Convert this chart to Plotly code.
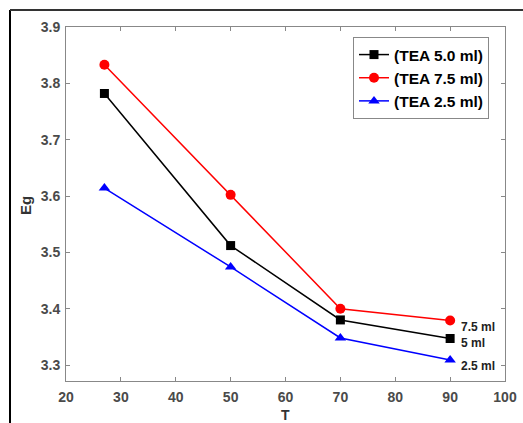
import plotly.graph_objects as go

# Temperature values and band-gap energies for each TEA volume
T = [27, 50, 70, 90]
eg_tea_50 = [3.782, 3.512, 3.380, 3.347]
eg_tea_75 = [3.833, 3.602, 3.400, 3.379]
eg_tea_25 = [3.614, 3.474, 3.348, 3.309]

series_names = ["(TEA 5.0 ml)", "(TEA 7.5 ml)", "(TEA 2.5 ml)"]
end_labels = ["5 ml", "7.5 ml", "2.5 ml"]
x_title, y_title = "T", "Eg"

W, H = 523, 423
ML, MR, MT, MB = 66, 18, 27, 42

FONT = "Liberation Sans, Arial, sans-serif"

fig = go.Figure()
styles = [
    ("black", "square", 9),
    ("#ff0000", "circle", 10),
    ("#0000ff", "triangle-up", 10),
]
for name, ys, (col, sym, sz) in zip(series_names, [eg_tea_50, eg_tea_75, eg_tea_25], styles):
    fig.add_trace(go.Scatter(
        x=T, y=ys, name=name, mode="lines+markers",
        line=dict(color=col, width=1.5),
        marker=dict(color=col, symbol=sym, size=sz),
    ))

# Labels at the right end of each curve
for lab, ys, dy in zip(end_labels, [eg_tea_50, eg_tea_75, eg_tea_25], [-4, -6, -6]):
    fig.add_annotation(
        x=T[-1], y=ys[-1], text=f"<b>{lab}</b>", showarrow=False,
        xanchor="left", yanchor="middle", xshift=9, yshift=dy,
        font=dict(family=FONT, size=12, color="#222"),
    )

axis_common = dict(
    showline=True, linecolor="#888", linewidth=1, mirror="ticks",
    ticks="inside", ticklen=4, tickcolor="#888",
    showgrid=False, zeroline=False, automargin=False,
    tickfont=dict(family=FONT, size=14, color="#4a4a4a", weight="bold"),
)

fig.update_layout(
    width=W, height=H,
    margin=dict(l=ML, r=MR, t=MT, b=MB),
    paper_bgcolor="white", plot_bgcolor="white",
    xaxis=dict(range=[20, 100], dtick=10, tickformat="d", ticklabelstandoff=3,
               **axis_common),
    yaxis=dict(range=[3.2716, 3.9], dtick=0.1, tickformat=".1f", ticklabelstandoff=2,
               **axis_common),
    legend=dict(
        x=(353 - ML) / (W - ML - MR), y=1 - (37 - MT) / (H - MT - MB),
        xanchor="left", yanchor="top",
        bgcolor="white", bordercolor="#888", borderwidth=1,
        font=dict(family=FONT, size=15.5, color="black", weight="bold"),
        tracegroupgap=0, itemwidth=30,
    ),
    showlegend=True,
)

pw, ph = W - ML - MR, H - MT - MB
def px(x):
    return (x - ML) / pw
def py(y):
    return 1 - (y - MT) / ph

# Axis titles
fig.add_annotation(xref="paper", yref="paper", x=0.5, y=py(415),
                   text=f"<b>{x_title}</b>", showarrow=False,
                   xanchor="center", yanchor="middle",
                   font=dict(family=FONT, size=14, color="#333"))
fig.add_annotation(xref="paper", yref="paper", x=px(26), y=py(206),
                   text=f"<b>{y_title}</b>", showarrow=False, textangle=-90,
                   xanchor="center", yanchor="middle",
                   font=dict(family=FONT, size=15, color="#333"))

# Outer frame lines (left and top edges)
fig.add_shape(type="line", xref="paper", yref="paper",
              x0=px(10), x1=px(10), y0=py(10), y1=py(H + 5),
              line=dict(color="black", width=2))
fig.add_shape(type="line", xref="paper", yref="paper",
              x0=px(10), x1=px(W + 5), y0=py(10), y1=py(10),
              line=dict(color="#333", width=2))

fig.write_html("out.html")
